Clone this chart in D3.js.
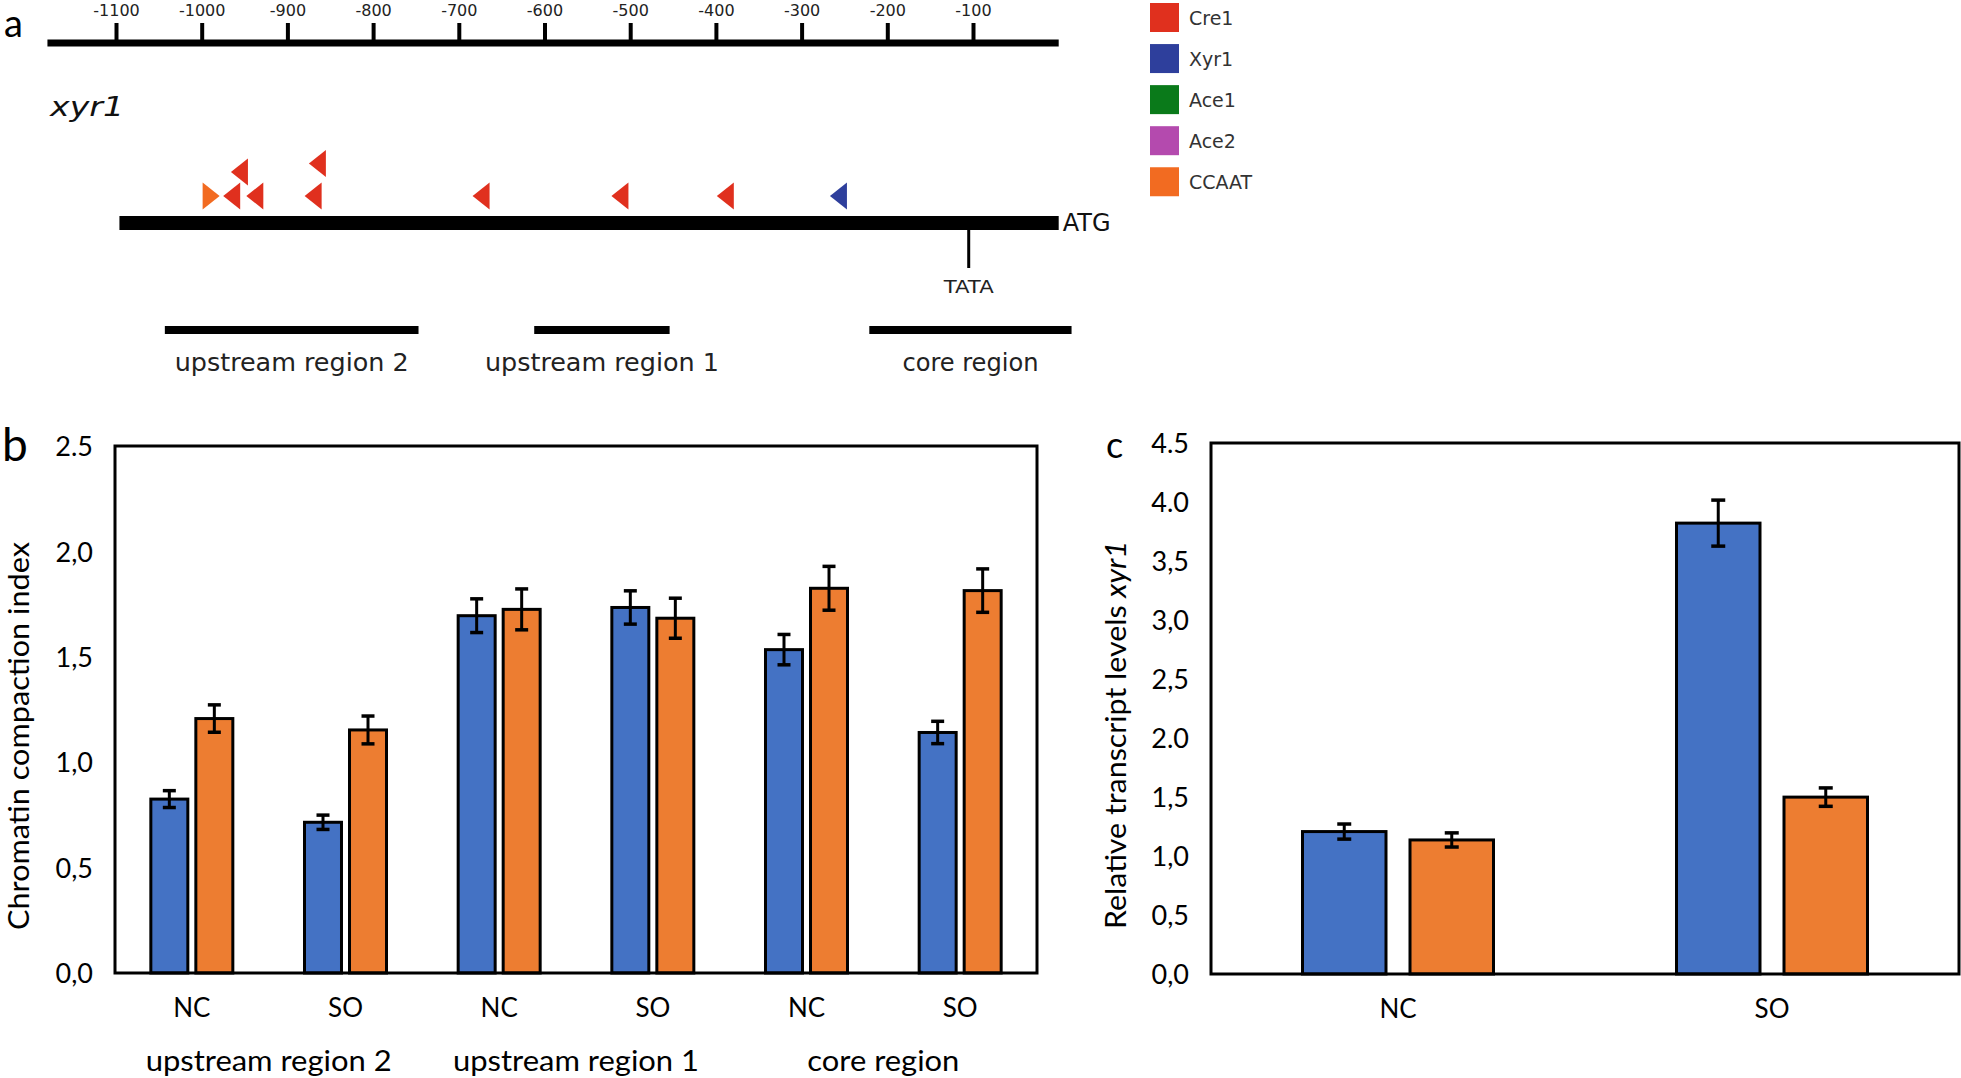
<!DOCTYPE html>
<html>
<head>
<meta charset="utf-8">
<script src="https://cdn.jsdelivr.net/npm/d3@7"></script>
<style>
  html, body { margin: 0; padding: 0; background: #fff; }
  svg { display: block; }
</style>
</head>
<body>
<svg id="chart" width="1961" height="1078"></svg>
<script>
// ---------- Panel a data ----------
const aAxisTicks = [-1100, -1000, -900, -800, -700, -600, -500, -400, -300, -200, -100];
const aAxisExtent = [-1180, 0];
const geneExtent = [-1096, 0];
const tataPos = -105;
const siteBp     = [-989, -965, -938, -956, -870, -865, -674, -512, -389, -257];
const siteFactor = ["CCAAT", "Cre1", "Cre1", "Cre1", "Cre1", "Cre1", "Cre1", "Cre1", "Cre1", "Xyr1"];
const siteStrand = ["+", "-", "-", "-", "-", "-", "-", "-", "-", "-"];
const siteLane   = [0, 0, 0, 1, 0, 1.35, 0, 0, 0, 0];
const regionNames = ["upstream region 2", "upstream region 1", "core region"];
const regionStart = [-1043, -612, -221];
const regionEnd   = [-747, -454, 15];
const legendFactors = ["Cre1", "Xyr1", "Ace1", "Ace2", "CCAAT"];
const legendColors  = ["#e0301e", "#2e3f9c", "#0a7a1a", "#b44aae", "#f26b21"];

// ---------- Panel b data ----------
const bConditions = ["NC", "SO", "NC", "SO", "NC", "SO"];
const bRegions = ["upstream region 2", "upstream region 1", "core region"];
const bBlue      = [0.825, 0.715, 1.695, 1.734, 1.534, 1.141];
const bBlueErr   = [0.040, 0.034, 0.080, 0.079, 0.072, 0.053];
const bOrange    = [1.207, 1.153, 1.725, 1.683, 1.825, 1.814];
const bOrangeErr = [0.065, 0.066, 0.097, 0.095, 0.104, 0.103];
const bTickValues = [0, 0.5, 1.0, 1.5, 2.0, 2.5];
const bTickLabels = ["0,0", "0,5", "1,0", "1,5", "2,0", "2.5"];

// ---------- Panel c data ----------
const cConditions = ["NC", "SO"];
const cBlue      = [1.207, 3.821];
const cBlueErr   = [0.064, 0.195];
const cOrange    = [1.136, 1.499];
const cOrangeErr = [0.060, 0.078];
const cTickValues = [0, 0.5, 1.0, 1.5, 2.0, 2.5, 3.0, 3.5, 4.0, 4.5];
const cTickLabels = ["0,0", "0,5", "1,0", "1,5", "2.0", "2,5", "3,0", "3,5", "4.0", "4.5"];

const seriesKeys = ["blue", "orange"];
const seriesColors = {blue: "#4472c4", orange: "#ed7d31"};

const svg = d3.select("#chart");
const FONT = "Lato, 'Open Sans', sans-serif";
const FONT_A = "'DejaVu Sans', Verdana, sans-serif";

// =============== PANEL A ===============
const xA = d3.scaleLinear().domain([-1100, -100]).range([116, 973]);
const gA = svg.append("g");

gA.append("text").attr("x", 4).attr("y", 37).attr("font-family", FONT)
  .attr("font-size", 38).attr("fill", "#000").text("a");

// top ruler
gA.append("line").attr("x1", xA(aAxisExtent[0])).attr("x2", xA(aAxisExtent[1]))
  .attr("y1", 43).attr("y2", 43).attr("stroke", "#000").attr("stroke-width", 7);
const rulerAxis = d3.axisTop(xA).tickValues(aAxisTicks).tickSize(17).tickPadding(6).tickFormat(d => d);
const ruler = gA.append("g").attr("transform", "translate(0,40)").call(rulerAxis);
ruler.select(".domain").remove();
ruler.selectAll(".tick line").attr("stroke", "#000").attr("stroke-width", 4);
ruler.selectAll(".tick text").attr("font-family", FONT_A).attr("font-size", 16)
  .attr("fill", "#222").attr("y", -24).attr("dy", 0);

// gene name
gA.append("text").attr("x", 50).attr("y", 116).attr("font-family", FONT_A)
  .attr("font-style", "italic").attr("font-size", 27).attr("fill", "#111")
  .attr("textLength", 74).attr("lengthAdjust", "spacingAndGlyphs").text("xyr1");

// gene bar
gA.append("line").attr("x1", xA(geneExtent[0])).attr("x2", xA(geneExtent[1]))
  .attr("y1", 223).attr("y2", 223).attr("stroke", "#000").attr("stroke-width", 14);
gA.append("text").attr("x", xA(geneExtent[1]) + 4).attr("y", 231).attr("font-family", FONT_A)
  .attr("font-size", 24).attr("fill", "#111").text("ATG");

// TATA
gA.append("line").attr("x1", xA(tataPos)).attr("x2", xA(tataPos))
  .attr("y1", 228).attr("y2", 268).attr("stroke", "#000").attr("stroke-width", 3);
gA.append("text").attr("x", xA(tataPos)).attr("y", 293).attr("text-anchor", "middle")
  .attr("font-family", FONT_A).attr("font-size", 17).attr("fill", "#222")
  .attr("textLength", 50).attr("lengthAdjust", "spacingAndGlyphs").text("TATA");

// binding sites
const colorOf = f => legendColors[legendFactors.indexOf(f)];
const laneY = l => 196 - l * 24;
const triW = 17, triH = 27;
siteBp.forEach((bp, i) => {
  const cx = xA(bp), cy = laneY(siteLane[i]);
  let pts;
  if (siteStrand[i] === "-") {
    pts = [[cx - triW / 2, cy], [cx + triW / 2, cy - triH / 2], [cx + triW / 2, cy + triH / 2]];
  } else {
    pts = [[cx + triW / 2, cy], [cx - triW / 2, cy - triH / 2], [cx - triW / 2, cy + triH / 2]];
  }
  gA.append("path").attr("d", d3.line()(pts) + "Z").attr("fill", colorOf(siteFactor[i]));
});

// regions
regionNames.forEach((name, i) => {
  const x1 = xA(regionStart[i]), x2 = xA(regionEnd[i]);
  gA.append("line").attr("x1", x1).attr("x2", x2).attr("y1", 330).attr("y2", 330)
    .attr("stroke", "#000").attr("stroke-width", 8);
  gA.append("text").attr("x", (x1 + x2) / 2).attr("y", 371).attr("text-anchor", "middle")
    .attr("font-family", "'DejaVu Sans Condensed', 'DejaVu Sans', sans-serif")
    .attr("font-size", 25).attr("fill", "#222")
    .attr("textLength", name === "core region" ? 136 : 234).attr("lengthAdjust", "spacingAndGlyphs")
    .text(name);
});

// legend
const legY = d3.scaleBand().domain(legendFactors).range([3, 196]).paddingInner(0.3);
legendFactors.forEach((f, i) => {
  const y = legY(f);
  gA.append("rect").attr("x", 1150).attr("y", y).attr("width", 29).attr("height", 29)
    .attr("fill", legendColors[i]);
  gA.append("text").attr("x", 1189).attr("y", y + 14.5).attr("dominant-baseline", "central")
    .attr("font-family", FONT_A).attr("font-size", 19).attr("fill", "#333").text(f);
});

// =============== bar panel helper ===============
function barPanel(opts) {
  const g = svg.append("g");
  const {left, right, top, bottom, domainMax, blue, blueErr, orange, orangeErr,
         cats, tickValues, tickLabels, innerHalf, innerPad, capW} = opts;
  const y = d3.scaleLinear().domain([0, domainMax]).range([bottom, top]);
  const x0 = d3.scaleBand().domain(d3.range(cats.length)).range([left, right]).padding(0);
  const x1 = d3.scaleBand().domain(seriesKeys).range([-innerHalf, innerHalf]).paddingInner(innerPad);
  const vals = {blue, orange}, errs = {blue: blueErr, orange: orangeErr};

  seriesKeys.forEach(k => {
    cats.forEach((c, i) => {
      const cx = x0(i) + x0.bandwidth() / 2;
      const bx = cx + x1(k);
      g.append("rect").attr("x", bx).attr("y", y(vals[k][i]))
        .attr("width", x1.bandwidth()).attr("height", y(0) - y(vals[k][i]))
        .attr("fill", seriesColors[k]).attr("stroke", "#000").attr("stroke-width", 3);
      const ex = bx + x1.bandwidth() / 2;
      const hi = y(vals[k][i] + errs[k][i]), lo = y(vals[k][i] - errs[k][i]);
      g.append("line").attr("x1", ex).attr("x2", ex).attr("y1", hi).attr("y2", lo)
        .attr("stroke", "#000").attr("stroke-width", 3);
      [hi, lo].forEach(yy => g.append("line").attr("x1", ex - capW / 2).attr("x2", ex + capW / 2)
        .attr("y1", yy).attr("y2", yy).attr("stroke", "#000").attr("stroke-width", 3.5));
    });
  });

  // frame
  g.append("rect").attr("x", left).attr("y", top).attr("width", right - left)
    .attr("height", bottom - top).attr("fill", "none").attr("stroke", "#000").attr("stroke-width", 3);

  // y axis labels
  const yAxis = d3.axisLeft(y).tickValues(tickValues).tickSize(0).tickPadding(22)
    .tickFormat((d, i) => tickLabels[i]);
  const ya = g.append("g").attr("transform", `translate(${left},0)`).call(yAxis);
  ya.select(".domain").remove();
  ya.selectAll(".tick text").attr("font-family", FONT).attr("font-size", 27)
    .attr("fill", "#000").attr("dy", "0.36em").attr("y", 0);

  // x labels
  const xAxis = d3.axisBottom(x0).tickSize(0).tickPadding(26).tickFormat(i => cats[i]);
  const xa = g.append("g").attr("transform", `translate(0,${bottom})`).call(xAxis);
  xa.select(".domain").remove();
  xa.selectAll(".tick text").attr("font-family", FONT).attr("font-size", 26).attr("fill", "#000");
  return {g, x0, y};
}

// =============== PANEL B ===============
const pb = barPanel({left: 115, right: 1037, top: 446, bottom: 973, domainMax: 2.5,
  blue: bBlue, blueErr: bBlueErr, orange: bOrange, orangeErr: bOrangeErr,
  cats: bConditions, tickValues: bTickValues, tickLabels: bTickLabels,
  innerHalf: 41, innerPad: 0.178, capW: 13});
bRegions.forEach((r, i) => {
  const cx = pb.x0(2 * i + 1);
  pb.g.append("text").attr("x", cx).attr("y", 1071).attr("text-anchor", "middle")
    .attr("font-family", FONT).attr("font-size", 29).attr("fill", "#000")
    .attr("textLength", r === "core region" ? 152 : 246).attr("lengthAdjust", "spacingAndGlyphs")
    .text(r);
});
svg.append("text").attr("x", 2).attr("y", 461).attr("font-family", FONT)
  .attr("font-size", 46).attr("fill", "#000").text("b");
svg.append("text").attr("transform", "translate(18,736) rotate(-90)")
  .attr("text-anchor", "middle").attr("dominant-baseline", "central")
  .attr("font-family", FONT).attr("font-size", 28).attr("fill", "#000")
  .attr("textLength", 388).attr("lengthAdjust", "spacingAndGlyphs")
  .text("Chromatin compaction index");

// =============== PANEL C ===============
barPanel({left: 1211, right: 1959, top: 443, bottom: 974, domainMax: 4.5,
  blue: cBlue, blueErr: cBlueErr, orange: cOrange, orangeErr: cOrangeErr,
  cats: cConditions, tickValues: cTickValues, tickLabels: cTickLabels,
  innerHalf: 95.5, innerPad: 0.2233, capW: 14});
svg.append("text").attr("x", 1106).attr("y", 458).attr("font-family", FONT)
  .attr("font-size", 36).attr("fill", "#000").text("c");
const cl = svg.append("text").attr("transform", "translate(1115,735) rotate(-90)")
  .attr("text-anchor", "middle").attr("dominant-baseline", "central")
  .attr("font-family", FONT).attr("font-size", 28).attr("fill", "#000")
  .attr("textLength", 388).attr("lengthAdjust", "spacingAndGlyphs");
cl.append("tspan").text("Relative transcript levels ");
cl.append("tspan").attr("font-style", "italic").text("xyr1");
</script>
</body>
</html>
